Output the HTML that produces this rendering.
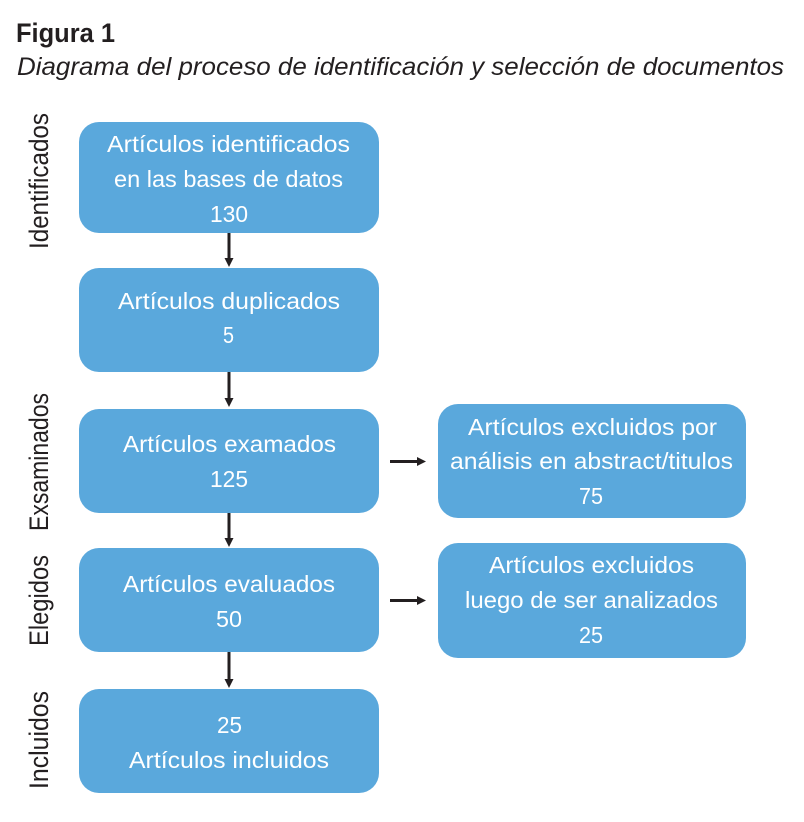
<!DOCTYPE html>
<html>
<head>
<meta charset="utf-8">
<style>
  html, body { margin: 0; padding: 0; background: #ffffff; }
  svg { display: block; }
  .bx { fill: #5aa8dc; }
  .t { font-family: "Liberation Sans", "DejaVu Sans", sans-serif; font-size: 23px; fill: #ffffff; }
  .lbl { font-family: "Liberation Sans", "DejaVu Sans", sans-serif; font-size: 27px; fill: #231f20; }
  .ar { stroke: #231f20; stroke-width: 3; fill: none; }
  .ah { fill: #231f20; }
</style>
</head>
<body>
<svg width="804" height="822" viewBox="0 0 804 822" xmlns="http://www.w3.org/2000/svg">
  <!-- Title -->
  <text x="16" y="42" font-family="Liberation Sans, sans-serif" font-weight="bold" font-size="27" fill="#231f20" textLength="99" lengthAdjust="spacingAndGlyphs">Figura 1</text>
  <text x="17" y="75" font-family="Liberation Sans, sans-serif" font-style="italic" font-size="25" fill="#231f20" textLength="767" lengthAdjust="spacingAndGlyphs">Diagrama del proceso de identificación y selección de documentos</text>

  <!-- Side labels -->
  <text class="lbl" transform="translate(48,181) rotate(-90)" text-anchor="middle" textLength="136" lengthAdjust="spacingAndGlyphs">Identificados</text>
  <text class="lbl" transform="translate(48,462) rotate(-90)" text-anchor="middle" textLength="138" lengthAdjust="spacingAndGlyphs">Exsaminados</text>
  <text class="lbl" transform="translate(48,600.5) rotate(-90)" text-anchor="middle" textLength="91" lengthAdjust="spacingAndGlyphs">Elegidos</text>
  <text class="lbl" transform="translate(48,740) rotate(-90)" text-anchor="middle" textLength="98" lengthAdjust="spacingAndGlyphs">Incluidos</text>

  <!-- Boxes -->
  <rect class="bx" x="79" y="122" width="300" height="111" rx="20" ry="20"/>
  <rect class="bx" x="79" y="268" width="300" height="104" rx="20" ry="20"/>
  <rect class="bx" x="79" y="409" width="300" height="104" rx="20" ry="20"/>
  <rect class="bx" x="79" y="548" width="300" height="104" rx="20" ry="20"/>
  <rect class="bx" x="79" y="689" width="300" height="104" rx="20" ry="20"/>
  <rect class="bx" x="438" y="404" width="308" height="114" rx="20" ry="20"/>
  <rect class="bx" x="438" y="543" width="308" height="115" rx="20" ry="20"/>

  <!-- Box texts -->
  <text class="t" x="107" y="152" textLength="243" lengthAdjust="spacingAndGlyphs">Artículos identificados</text>
  <text class="t" x="114" y="187" textLength="229" lengthAdjust="spacingAndGlyphs">en las bases de datos</text>
  <text class="t" x="210" y="222" textLength="38" lengthAdjust="spacingAndGlyphs">130</text>

  <text class="t" x="118" y="309" textLength="222" lengthAdjust="spacingAndGlyphs">Artículos duplicados</text>
  <text class="t" x="223" y="343" textLength="11" lengthAdjust="spacingAndGlyphs">5</text>

  <text class="t" x="123" y="452" textLength="213" lengthAdjust="spacingAndGlyphs">Artículos examados</text>
  <text class="t" x="210" y="487" textLength="38" lengthAdjust="spacingAndGlyphs">125</text>

  <text class="t" x="123" y="592" textLength="212" lengthAdjust="spacingAndGlyphs">Artículos evaluados</text>
  <text class="t" x="216" y="627" textLength="26" lengthAdjust="spacingAndGlyphs">50</text>

  <text class="t" x="217" y="733" textLength="25" lengthAdjust="spacingAndGlyphs">25</text>
  <text class="t" x="129" y="768" textLength="200" lengthAdjust="spacingAndGlyphs">Artículos incluidos</text>

  <text class="t" x="468" y="435" textLength="249" lengthAdjust="spacingAndGlyphs">Artículos excluidos por</text>
  <text class="t" x="450" y="469" textLength="283" lengthAdjust="spacingAndGlyphs">análisis en abstract/titulos</text>
  <text class="t" x="579" y="504" textLength="24" lengthAdjust="spacingAndGlyphs">75</text>

  <text class="t" x="489" y="573" textLength="205" lengthAdjust="spacingAndGlyphs">Artículos excluidos</text>
  <text class="t" x="465" y="608" textLength="253" lengthAdjust="spacingAndGlyphs">luego de ser analizados</text>
  <text class="t" x="579" y="643" textLength="24" lengthAdjust="spacingAndGlyphs">25</text>

  <!-- Vertical arrows -->
  <line class="ar" x1="229" y1="233" x2="229" y2="259"/>
  <polygon class="ah" points="224.5,258 233.5,258 229,267"/>

  <line class="ar" x1="229" y1="372" x2="229" y2="399"/>
  <polygon class="ah" points="224.5,398 233.5,398 229,407"/>

  <line class="ar" x1="229" y1="513" x2="229" y2="539"/>
  <polygon class="ah" points="224.5,538 233.5,538 229,547"/>

  <line class="ar" x1="229" y1="652" x2="229" y2="680"/>
  <polygon class="ah" points="224.5,679 233.5,679 229,688"/>

  <!-- Horizontal arrows -->
  <line class="ar" x1="390" y1="461.5" x2="418" y2="461.5"/>
  <polygon class="ah" points="417,457 417,466 426,461.5"/>

  <line class="ar" x1="390" y1="600.5" x2="418" y2="600.5"/>
  <polygon class="ah" points="417,596 417,605 426,600.5"/>
</svg>
</body>
</html>
